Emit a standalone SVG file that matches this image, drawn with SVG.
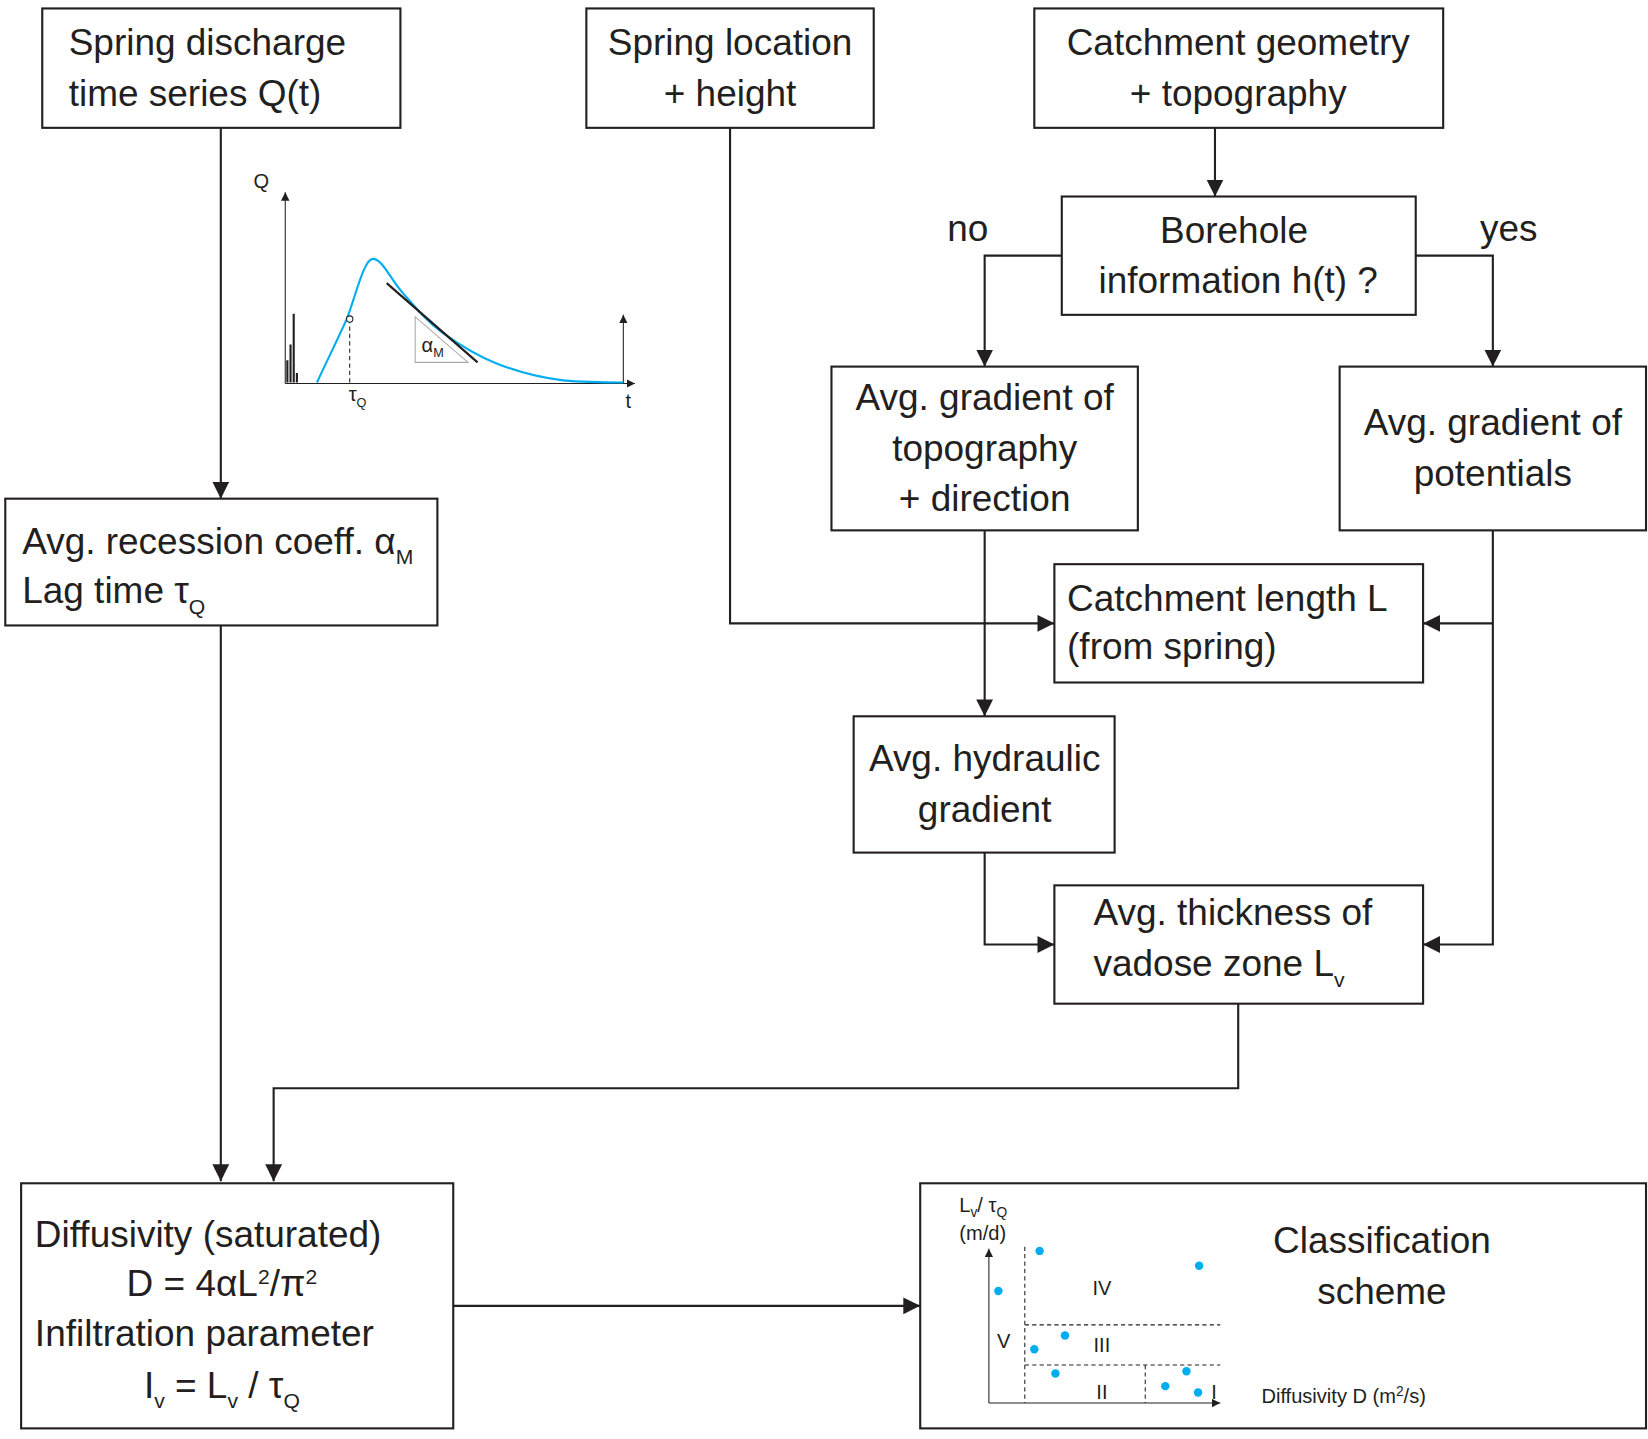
<svg xmlns="http://www.w3.org/2000/svg" width="1648" height="1439" viewBox="0 0 1648 1439">
<style>
.b{fill:#fff;stroke:#231f20;stroke-width:2}
.t{font-family:"Liberation Sans",Arial,sans-serif;font-size:35px;fill:#231f20}
.c{text-anchor:middle}
.s{font-family:"Liberation Sans",Arial,sans-serif;font-size:19px;fill:#231f20}
.ln{fill:none;stroke:#231f20;stroke-width:2}
.thin{fill:none;stroke:#231f20;stroke-width:1}
.dash{fill:none;stroke:#231f20;stroke-width:1;stroke-dasharray:4 3}
.dot{fill:#00aeef}
</style>
<defs>
<marker id="ah" markerUnits="userSpaceOnUse" markerWidth="18" markerHeight="18" refX="16" refY="8" orient="auto"><path d="M0,0 L16,8 L0,16 Z" fill="#231f20"/></marker>
<marker id="sa" markerUnits="userSpaceOnUse" markerWidth="10" markerHeight="10" refX="8" refY="4" orient="auto"><path d="M0,0 L8,4 L0,8 Z" fill="#231f20"/></marker>
</defs>
<rect width="1648" height="1439" fill="#fff"/>
<g transform="scale(1.0565)">
<g id="connectors">
<path class="ln" d="M209,121 V472" marker-end="url(#ah)"/>
<path class="ln" d="M209,592 V1118" marker-end="url(#ah)"/>
<path class="ln" d="M1150,121 V186" marker-end="url(#ah)"/>
<path class="ln" d="M1005,242 H932 V347" marker-end="url(#ah)"/>
<path class="ln" d="M1340,242 H1413 V347" marker-end="url(#ah)"/>
<path class="ln" d="M691,121 V590 H998" marker-end="url(#ah)"/>
<path class="ln" d="M1413,502 V894 H1347" marker-end="url(#ah)"/>
<path class="ln" d="M1413,590 H1347" marker-end="url(#ah)"/>
<path class="ln" d="M932,502 V678" marker-end="url(#ah)"/>
<path class="ln" d="M932,807 V894 H998" marker-end="url(#ah)"/>
<path class="ln" d="M1172,950 V1030 H259 V1118" marker-end="url(#ah)"/>
<path class="ln" d="M429,1236 H871" marker-end="url(#ah)"/>
</g>
<text class="t c" x="916" y="228">no</text>
<text class="t c" x="1428" y="228">yes</text>
<g id="n1"><rect class="b" x="40" y="8" width="339" height="113"/>
<text class="t" x="65" y="52">Spring discharge</text><text class="t" x="65" y="100">time series Q(t)</text></g>
<g id="n2"><rect class="b" x="555" y="8" width="272" height="113"/>
<text class="t c" x="691" y="52">Spring location</text><text class="t c" x="691" y="100">+ height</text></g>
<g id="n3"><rect class="b" x="979" y="8" width="387" height="113"/>
<text class="t c" x="1172" y="52">Catchment geometry</text><text class="t c" x="1172" y="100">+ topography</text></g>
<g id="n4"><rect class="b" x="1005" y="186" width="335" height="112"/>
<text class="t c" x="1168" y="230">Borehole</text><text class="t c" x="1172" y="277">information h(t) ?</text></g>
<g id="n5"><rect class="b" x="787" y="347" width="290" height="155"/>
<text class="t c" x="932" y="388">Avg. gradient of</text><text class="t c" x="932" y="436">topography</text><text class="t c" x="932" y="484">+ direction</text></g>
<g id="n6"><rect class="b" x="1268" y="347" width="290" height="155"/>
<text class="t c" x="1413" y="412">Avg. gradient of</text><text class="t c" x="1413" y="460">potentials</text></g>
<g id="n7"><rect class="b" x="998" y="534" width="349" height="112"/>
<text class="t" x="1010" y="578">Catchment length L</text><text class="t" x="1010" y="624">(from spring)</text></g>
<g id="n8"><rect class="b" x="808" y="678" width="247" height="129"/>
<text class="t c" x="932" y="730">Avg. hydraulic</text><text class="t c" x="932" y="778">gradient</text></g>
<g id="n9"><rect class="b" x="998" y="838" width="349" height="112"/>
<text class="t" x="1035" y="876">Avg. thickness of</text><text class="t" x="1035" y="924">vadose zone L<tspan font-size="20" dy="10">v</tspan></text></g>
<g id="n10"><rect class="b" x="5" y="472" width="409" height="120"/>
<text class="t" x="21" y="524">Avg. recession coeff. α<tspan font-size="20" dy="10">M</tspan></text>
<text class="t" x="21" y="571">Lag time τ<tspan font-size="20" dy="10">Q</tspan></text></g>
<g id="n11"><rect class="b" x="20" y="1120" width="409" height="232"/>
<text class="t" x="33" y="1180">Diffusivity (saturated)</text>
<text class="t c" x="210" y="1227">D = 4αL<tspan font-size="20" dy="-12">2</tspan><tspan dy="12">/π</tspan><tspan font-size="20" dy="-12">2</tspan></text>
<text class="t" x="33" y="1274">Infiltration parameter</text>
<text class="t c" x="210" y="1323">I<tspan font-size="20" dy="10">v</tspan><tspan dy="-10"> = L</tspan><tspan font-size="20" dy="10">v</tspan><tspan dy="-10"> / τ</tspan><tspan font-size="20" dy="10">Q</tspan></text></g>
<g id="n12"><rect class="b" x="871" y="1120" width="687" height="232"/>
<text class="t c" x="1308" y="1186">Classification</text><text class="t c" x="1308" y="1234">scheme</text>
<path class="thin" d="M936,1328 V1182" marker-end="url(#sa)"/>
<path class="thin" d="M936,1328 H1155" marker-end="url(#sa)"/>
<path class="dash" d="M970,1180 V1328 M970,1254 H1155 M970,1292 H1155 M1084,1292 V1328"/>
<text class="s" x="908" y="1147">L<tspan font-size="13" dy="5">v</tspan><tspan dy="-5">/ τ</tspan><tspan font-size="13" dy="5">Q</tspan></text>
<text class="s" x="908" y="1174">(m/d)</text>
<text class="s c" x="1043" y="1226">IV</text><text class="s c" x="950" y="1276">V</text>
<text class="s c" x="1043" y="1280">III</text><text class="s c" x="1043" y="1324">II</text><text class="s c" x="1149" y="1324">I</text>
<text class="s" x="1194" y="1328">Diffusivity D (m<tspan font-size="13" dy="-7">2</tspan><tspan dy="7">/s)</tspan></text>
<g class="dot"><circle cx="984" cy="1184" r="4"/><circle cx="945" cy="1222" r="4"/><circle cx="1135" cy="1198" r="4"/><circle cx="979" cy="1277" r="4"/><circle cx="1008" cy="1264" r="4"/><circle cx="999" cy="1300" r="4"/><circle cx="1103" cy="1312" r="4"/><circle cx="1123" cy="1298" r="4"/><circle cx="1134" cy="1318" r="4"/></g>
</g>
<g id="hydrograph">
<path class="thin" d="M270,363 V182" marker-end="url(#sa)"/>
<path class="thin" d="M270,363 H601" marker-end="url(#sa)"/>
<path class="thin" d="M590,363 V298" marker-end="url(#sa)"/>
<path d="M272,362 V341 M275,362 V326 M278,362 V297 M281,362 V353" stroke="#231f20" stroke-width="2"/>
<path d="M300,362 C315,330 325,310 329,300 C338,275 345,245 353,245 C362,245 370,265 381,277 C395,293 405,305 419,315 C440,330 455,338 470,344 C495,354 515,358 533,360 C555,362 575,362 590,362" fill="none" stroke="#00aeef" stroke-width="2"/>
<path class="dash" d="M331,302 V363"/>
<circle cx="331" cy="302" r="3" fill="#fff" stroke="#231f20"/>
<path d="M393,300 V343 H443 Z" fill="none" stroke="#aaa" stroke-width="1"/>
<path d="M366,268 L452,343" stroke="#231f20" stroke-width="2"/>
<text class="s" x="240" y="178">Q</text>
<text class="s" x="592" y="386">t</text>
<text class="s" x="330" y="380">τ<tspan font-size="12" dy="5">Q</tspan></text>
<text class="s" x="399" y="333">α<tspan font-size="12" dy="5">M</tspan></text>
</g>
</g>
</svg>
